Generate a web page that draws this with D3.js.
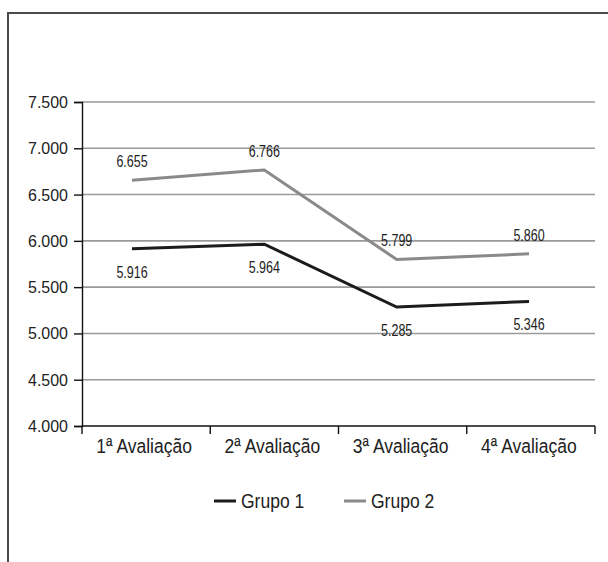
<!DOCTYPE html>
<html>
<head>
<meta charset="utf-8">
<script src="https://cdn.jsdelivr.net/npm/d3@7"></script>
<style>
  html, body { margin: 0; padding: 0; background: #fff; }
  svg { display: block; }
  text { font-family: "Liberation Sans", Arial, sans-serif; }
</style>
</head>
<body>
<svg id="chart" width="608" height="562"></svg>
<script>
const categories = ["1ª Avaliação", "2ª Avaliação", "3ª Avaliação", "4ª Avaliação"];
const seriesNames = ["Grupo 1", "Grupo 2"];
const grupo1 = [5.916, 5.964, 5.285, 5.346];
const grupo2 = [6.655, 6.766, 5.799, 5.860];
const yTicks = [4.0, 4.5, 5.0, 5.5, 6.0, 6.5, 7.0, 7.5];
const seriesColors = ["#1c1c1c", "#8a8a8a"];

const svg = d3.select("#chart");

// condense text horizontally (reference uses a condensed face)
function condense(sel, factor) {
  sel.each(function () {
    const w = this.getComputedTextLength();
    this.setAttribute("textLength", (w * factor).toFixed(2));
    this.setAttribute("lengthAdjust", "spacingAndGlyphs");
  });
}

// outer frame
svg.append("rect")
  .attr("x", 8).attr("y", 13)
  .attr("width", 640).attr("height", 600)
  .attr("fill", "none").attr("stroke", "#4a4a4a").attr("stroke-width", 2);

const pLeft = 82, pRight = 595, pTop = 102, pBottom = 426;

const y = d3.scaleLinear().domain([4, 7.5]).range([pBottom, pTop]);
const xBand = d3.scaleBand().domain(categories).range([pLeft, pRight]).padding(0);
const xPt = d3.scalePoint().domain(categories).range([132, 529]);

// gridlines
svg.append("g").selectAll("line")
  .data(yTicks.filter(t => t > 4))
  .join("line")
  .attr("x1", pLeft).attr("x2", pRight)
  .attr("y1", d => y(d)).attr("y2", d => y(d))
  .attr("stroke", "#9a9a9a").attr("stroke-width", 1.6);

// y axis
const yAxis = d3.axisLeft(y).tickValues(yTicks).tickSize(8).tickPadding(6)
  .tickFormat(d => d3.format(".3f")(d));
const gy = svg.append("g").attr("transform", `translate(${pLeft},0)`).call(yAxis);
gy.select(".domain").attr("stroke", "#111").attr("stroke-width", 1.4);
gy.selectAll(".tick line").attr("stroke", "#111").attr("stroke-width", 1.4);
gy.selectAll(".tick text")
  .attr("font-family", "'Liberation Sans', Arial, sans-serif")
  .attr("font-size", 17).attr("fill", "#222");
condense(gy.selectAll(".tick text"), 0.94);

// x axis (ticks at band boundaries)
const bounds = categories.map(c => xBand(c)).concat([pRight]);
const gx = svg.append("g");
gx.append("line")
  .attr("x1", pLeft).attr("x2", pRight).attr("y1", pBottom).attr("y2", pBottom)
  .attr("stroke", "#111").attr("stroke-width", 1.4);
gx.selectAll(".xt").data(bounds).join("line").attr("class", "xt")
  .attr("x1", d => d).attr("x2", d => d)
  .attr("y1", pBottom).attr("y2", pBottom + 8)
  .attr("stroke", "#111").attr("stroke-width", 1.4);
const xl = gx.selectAll(".xl").data(categories).join("text").attr("class", "xl")
  .attr("x", d => xBand(d) + xBand.bandwidth() / 2 - 2)
  .attr("y", 453)
  .attr("text-anchor", "middle")
  .attr("font-size", 20).attr("fill", "#222")
  .text(d => d);
condense(xl, 0.875);

// lines
const allSeries = [grupo1, grupo2];
const line = d3.line().x((d, i) => xPt(categories[i])).y(d => y(d));
svg.append("g").selectAll("path")
  .data(allSeries)
  .join("path")
  .attr("d", d => line(d))
  .attr("fill", "none")
  .attr("stroke", (d, i) => seriesColors[i])
  .attr("stroke-width", 3)
  .attr("stroke-linejoin", "miter");

// data labels
const labelOffsets = [29, -13];
allSeries.forEach((s, si) => {
  const t = svg.append("g").selectAll("text")
    .data(s)
    .join("text")
    .attr("x", (d, i) => xPt(categories[i]))
    .attr("y", d => y(d) + labelOffsets[si])
    .attr("text-anchor", "middle")
    .attr("font-size", 16).attr("fill", "#222")
    .text(d => d3.format(".3f")(d));
  condense(t, 0.78);
});

// legend
const legendX = [214, 344];
const lg = svg.append("g");
seriesNames.forEach((n, i) => {
  lg.append("line")
    .attr("x1", legendX[i]).attr("x2", legendX[i] + 22)
    .attr("y1", 501).attr("y2", 501)
    .attr("stroke", seriesColors[i]).attr("stroke-width", 3);
  const t = lg.append("text")
    .attr("x", legendX[i] + 27).attr("y", 508)
    .attr("font-size", 20).attr("fill", "#222")
    .text(n);
  condense(t, 0.875);
});
</script>
</body>
</html>
